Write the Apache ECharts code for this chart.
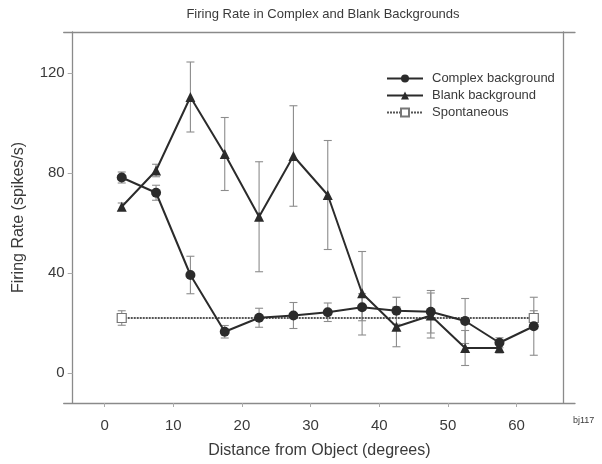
<!DOCTYPE html>
<html>
<head>
<meta charset="utf-8">
<script src="https://cdn.jsdelivr.net/npm/echarts@6/dist/echarts.min.js"></script>
<style>
  html, body { margin: 0; padding: 0; background: #fff; }
  #chart { width: 602px; height: 464px; }
</style>
</head>
<body>
<div id="chart"></div>
<script>
// Distance bins (degrees from the object) and firing rates (spikes/s)
const distances = [2.5, 7.5, 12.5, 17.5, 22.5, 27.5, 32.5, 37.5, 42.5, 47.5, 52.5, 57.5, 62.5];
const complexRate = [78.2, 72.1, 39.2, 16.5, 22.1, 23.0, 24.3, 26.3, 24.9, 24.5, 20.8, 12.1, 18.7];
const complexErr  = [2.2, 3.0, 7.5, 2.5, 3.8, 5.2, 3.7, 5.4, 5.4, 8.5, 9.0, 2.0, 11.6];
const blankDistances = [2.5, 7.5, 12.5, 17.5, 22.5, 27.5, 32.5, 37.5, 42.5, 47.5, 52.5, 57.5];
const blankRate = [66.5, 81.0, 110.4, 87.6, 62.5, 86.8, 71.2, 31.9, 18.5, 23.0, 10.0, 10.0];
const blankErr  = [1.5, 2.5, 14.0, 14.6, 22.0, 20.1, 21.8, 16.7, 8.0, 9.0, 7.0, 2.0];
const spontDistances = [2.5, 62.5];
const spontRate = [22, 22];
const spontErr  = [2.9, 2.9];
const xTicks = [0, 10, 20, 30, 40, 50, 60];
const yTicks = [0, 40, 80, 120];

const seriesNames = ['Complex background', 'Blank background', 'Spontaneous'];

const ink = '#2b2b2b';
const axisGray = '#8a8a8a';
const errGray = '#8c8c8c';
const textColor = '#3a3a3a';

function pairs(xs, ys) { return xs.map((x, i) => [x, ys[i]]); }
function errRows(xs, ys, es) { return xs.map((x, i) => [x, ys[i] - es[i], ys[i] + es[i]]); }

// vertical error bar with short caps
function renderErr(params, api) {
  const x = api.value(0);
  const lo = api.coord([x, api.value(1)]);
  const hi = api.coord([x, api.value(2)]);
  const cap = 4;
  const style = { stroke: errGray, lineWidth: 1.1 };
  return {
    type: 'group',
    children: [
      { type: 'line', shape: { x1: hi[0], y1: hi[1], x2: lo[0], y2: lo[1] }, style },
      { type: 'line', shape: { x1: hi[0] - cap, y1: hi[1], x2: hi[0] + cap, y2: hi[1] }, style },
      { type: 'line', shape: { x1: lo[0] - cap, y1: lo[1], x2: lo[0] + cap, y2: lo[1] }, style }
    ]
  };
}

function errSeries(rows) {
  return {
    type: 'custom',
    renderItem: renderErr,
    data: rows,
    encode: { x: 0, y: [1, 2] },
    z: 1,
    silent: true
  };
}

const frameLine = { show: true, onZero: false, lineStyle: { color: axisGray, width: 1.3 } };

const chart = echarts.init(document.getElementById('chart'), null, { renderer: 'canvas' });

chart.setOption({
  animation: false,
  backgroundColor: '#fff',
  textStyle: { fontFamily: 'Liberation Sans, Arial, sans-serif' },
  title: {
    text: 'Firing Rate in Complex and Blank Backgrounds',
    left: 318,
    textAlign: 'center',
    top: 3,
    textStyle: { fontSize: 13, fontWeight: 'normal', color: textColor }
  },
  legend: {
    orient: 'vertical',
    left: 381,
    top: 67,
    itemWidth: 36,
    itemHeight: 10,
    itemGap: 4,
    textStyle: { fontSize: 13, color: textColor, padding: [0, 0, 0, 4] },
    data: seriesNames
  },
  graphic: [{
    type: 'text',
    left: 573,
    top: 416,
    style: { text: 'bj117', fontSize: 9, fill: textColor, fontFamily: 'Liberation Sans, Arial, sans-serif' }
  }],
  grid: { left: 63.7, right: 27, top: 32, bottom: 61, containLabel: false, outerBoundsMode: 'none' },
  xAxis: [{
    type: 'value',
    position: 'bottom',
    min: -5.95,
    max: 68.5,
    name: 'Distance from Object (degrees)',
    nameLocation: 'middle',
    nameGap: 40,
    nameTextStyle: { fontSize: 16, color: textColor },
    axisLine: frameLine,
    axisTick: { show: true, customValues: xTicks, length: 4, lineStyle: { color: '#aaa' } },
    axisLabel: { customValues: xTicks, fontSize: 15, color: textColor, margin: 15 },
    splitLine: { show: false }
  }, {
    type: 'value',
    position: 'top',
    min: -5.95,
    max: 68.5,
    axisLine: frameLine,
    axisTick: { show: false },
    axisLabel: { show: false },
    splitLine: { show: false }
  }],
  yAxis: [{
    type: 'value',
    position: 'left',
    offset: -9,
    min: -12,
    max: 136.4,
    name: 'Firing Rate (spikes/s)',
    nameLocation: 'middle',
    nameGap: 46,
    nameTextStyle: { fontSize: 16, color: textColor },
    axisLine: frameLine,
    axisTick: { show: true, customValues: yTicks, length: 5, lineStyle: { color: '#aaa' } },
    axisLabel: { customValues: yTicks, fontSize: 15, color: textColor, margin: 8 },
    splitLine: { show: false }
  }, {
    type: 'value',
    position: 'right',
    offset: -12,
    min: -12,
    max: 136.4,
    axisLine: frameLine,
    axisTick: { show: false },
    axisLabel: { show: false },
    splitLine: { show: false }
  }],
  series: [
    errSeries(errRows(distances, complexRate, complexErr)),
    errSeries(errRows(blankDistances, blankRate, blankErr)),
    errSeries(errRows(spontDistances, spontRate, spontErr)),
    {
      name: 'Spontaneous',
      type: 'line',
      data: pairs(spontDistances, spontRate),
      symbol: 'rect',
      symbolSize: 9,
      lineStyle: { color: '#555', width: 2, type: [2, 1] },
      itemStyle: { color: '#fff', borderColor: '#777', borderWidth: 1.2 },
      z: 2
    },
    {
      name: 'Blank background',
      type: 'line',
      data: pairs(blankDistances, blankRate),
      symbol: 'triangle',
      symbolSize: 10,
      lineStyle: { color: ink, width: 2 },
      itemStyle: { color: ink },
      z: 3
    },
    {
      name: 'Complex background',
      type: 'line',
      data: pairs(distances, complexRate),
      symbol: 'circle',
      symbolSize: 10,
      lineStyle: { color: ink, width: 2 },
      itemStyle: { color: ink },
      z: 4
    }
  ]
});
</script>
</body>
</html>
